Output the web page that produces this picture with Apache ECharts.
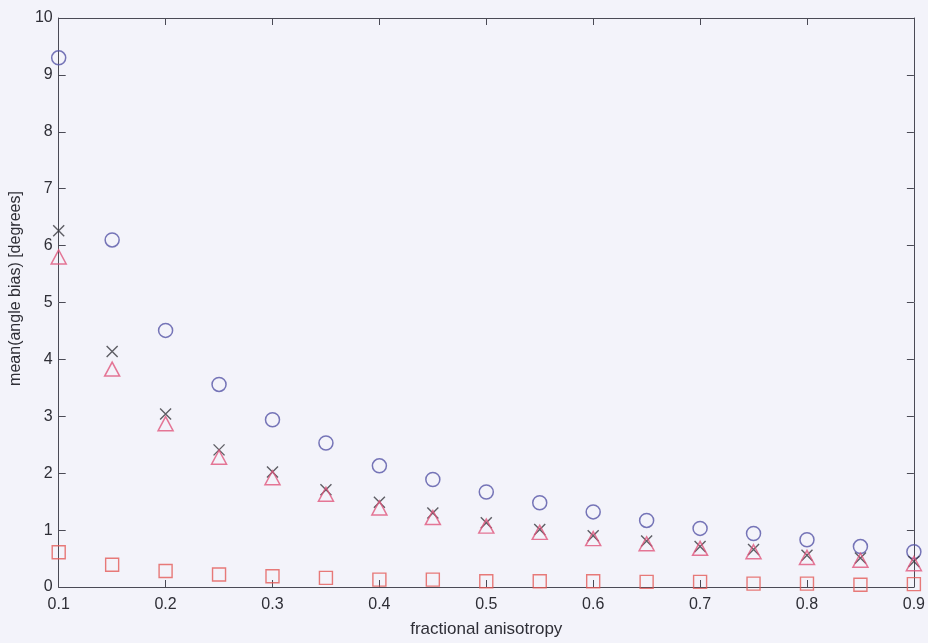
<!DOCTYPE html>
<html>
<head>
<meta charset="utf-8">
<script src="https://cdn.jsdelivr.net/npm/echarts@6/dist/echarts.min.js"></script>
<style>
  html, body { margin: 0; padding: 0; background: #f3f3fa; overflow: hidden; }
  #chart { width: 928px; height: 643px; }
</style>
</head>
<body>
<div id="chart"></div>
<script>
// Fractional anisotropy sample positions
const faValues = [0.1, 0.15, 0.2, 0.25, 0.3, 0.35, 0.4, 0.45, 0.5, 0.55, 0.6, 0.65, 0.7, 0.75, 0.8, 0.85, 0.9];

// Mean angle bias (degrees) for each estimator
const circleBias   = [9.30, 6.10, 4.51, 3.56, 2.94, 2.53, 2.13, 1.89, 1.67, 1.48, 1.32, 1.17, 1.03, 0.94, 0.83, 0.71, 0.62];
const crossBias    = [6.26, 4.14, 3.04, 2.41, 2.02, 1.71, 1.49, 1.30, 1.13, 1.01, 0.90, 0.81, 0.71, 0.66, 0.56, 0.51, 0.45];
const triangleBias = [5.80, 3.83, 2.87, 2.28, 1.92, 1.63, 1.39, 1.22, 1.07, 0.96, 0.85, 0.76, 0.68, 0.62, 0.52, 0.47, 0.41];
const squareBias   = [0.61, 0.39, 0.28, 0.22, 0.19, 0.16, 0.13, 0.13, 0.10, 0.10, 0.10, 0.09, 0.09, 0.06, 0.06, 0.04, 0.05];

const xTickLabels = ['0.1', '0.2', '0.3', '0.4', '0.5', '0.6', '0.7', '0.8', '0.9'];
const yTickLabels = ['0', '1', '2', '3', '4', '5', '6', '7', '8', '9', '10'];

const pairs = ys => faValues.map((x, i) => [x, ys[i]]);

const font = 'Liberation Sans, Arial, Helvetica, sans-serif';
const axisColor = '#4a4a55';
const textColor = '#2e2e36';

const chart = echarts.init(document.getElementById('chart'), null, { renderer: 'canvas' });

const frameAxisX = (position, showLabels) => ({
  type: 'value', position, min: 0.1, max: 0.9, interval: 0.1,
  axisLine: { show: true, onZero: false, lineStyle: { color: axisColor, width: 1 } },
  axisTick: { show: true, inside: true, length: 7, lineStyle: { color: axisColor } },
  axisLabel: {
    show: showLabels, color: textColor, fontFamily: font, fontSize: 16, margin: 10,
    formatter: v => xTickLabels[Math.round((v - 0.1) * 10)] || ''
  },
  splitLine: { show: false }
});

const frameAxisY = (position, showLabels) => ({
  type: 'value', position, min: 0, max: 10, interval: 1,
  axisLine: { show: true, onZero: false, lineStyle: { color: axisColor, width: 1 } },
  axisTick: { show: true, inside: true, length: 7, lineStyle: { color: axisColor } },
  axisLabel: {
    show: showLabels, color: textColor, fontFamily: font, fontSize: 16, margin: 6,
    formatter: v => yTickLabels[Math.round(v)] || ''
  },
  splitLine: { show: false }
});

const xMain = Object.assign(frameAxisX('bottom', true), {
  name: 'fractional anisotropy', nameLocation: 'middle', nameGap: 34,
  nameTextStyle: { color: textColor, fontFamily: font, fontSize: 17 }
});
const yMain = Object.assign(frameAxisY('left', true), {
  name: 'mean(angle bias) [degrees]', nameLocation: 'middle', nameGap: 34,
  nameTextStyle: { color: textColor, fontFamily: font, fontSize: 16, padding: [0, 0, 0, 28] }
});

chart.setOption({
  backgroundColor: '#f3f3fa',
  animation: false,
  grid: { left: 58, right: 9, top: 18, bottom: 51, containLabel: false },
  xAxis: [xMain, frameAxisX('top', false)],
  yAxis: [yMain, frameAxisY('right', false)],
  series: [
    {
      name: 'circle', type: 'scatter', data: pairs(circleBias),
      symbol: 'circle', symbolSize: 14, clip: false,
      itemStyle: { color: 'rgba(0,0,0,0)', borderColor: '#5554a6', borderWidth: 1.5 }
    },
    {
      name: 'cross', type: 'scatter', data: pairs(crossBias),
      symbol: 'path://M0,0L10,10M10,0L0,10', symbolSize: 11, clip: false,
      itemStyle: { color: 'rgba(0,0,0,0)', borderColor: '#38383e', borderWidth: 1.4 }
    },
    {
      name: 'triangle', type: 'scatter', data: pairs(triangleBias),
      symbol: 'triangle', symbolSize: [15, 14], clip: false,
      itemStyle: { color: 'rgba(0,0,0,0)', borderColor: '#e0557c', borderWidth: 1.5 }
    },
    {
      name: 'square', type: 'scatter', data: pairs(squareBias),
      symbol: 'rect', symbolSize: 13, clip: false,
      itemStyle: { color: 'rgba(0,0,0,0)', borderColor: '#e45a58', borderWidth: 1.4 }
    }
  ]
});
</script>
</body>
</html>
